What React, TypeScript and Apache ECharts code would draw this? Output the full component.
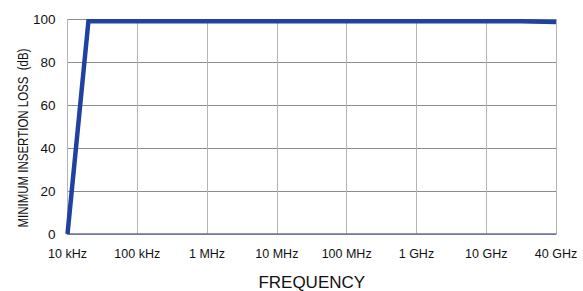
import React, { useEffect, useRef } from "react";
import * as echarts from "echarts";

const xTickLabels = ["10 kHz", "100 kHz", "1 MHz", "10 MHz", "100 MHz", "1 GHz", "10 GHz", "40 GHz"];
// x positions in tick steps from 10 kHz (one step per labelled tick)
const lossX = [0, 0.3, 6.5, 7];
const lossDb = [0, 99, 99, 98.6];
const yTicks = [0, 20, 40, 60, 80, 100];
const yTitle = "MINIMUM INSERTION LOSS  (dB)";

export default function App() {
  const ref = useRef<HTMLDivElement>(null);
  useEffect(() => {
    document.body.style.margin = "0";
    const chart = echarts.init(ref.current!, null, { renderer: "svg" });
    chart.setOption({
      animation: false,
      backgroundColor: "#ffffff",
      grid: { left: 67.5, right: 27, top: 19, bottom: 57, outerBoundsMode: "none", containLabel: false },
      xAxis: {
        type: "value",
        min: 0,
        max: xTickLabels.length - 1,
        interval: 1,
        name: "FREQUENCY",
        nameLocation: "middle",
        nameGap: 40,
        nameTextStyle: { fontFamily: "Liberation Sans, Arial, sans-serif", fontSize: 17, color: "#111" },
        axisLine: { show: true, lineStyle: { color: "#6a739c", width: 1.5 } },
        axisTick: { show: false },
        axisLabel: {
          margin: 13,
          fontFamily: "Liberation Sans, Arial, sans-serif",
          fontSize: 12.5,
          color: "#111",
          formatter: (v: number) => xTickLabels[Math.round(v)] ?? "",
        },
        splitLine: { show: true, lineStyle: { color: "#b4b4b4", width: 1 } },
      },
      yAxis: {
        type: "value",
        min: 0,
        max: yTicks[yTicks.length - 1],
        interval: 20,
        axisLine: { show: false },
        axisTick: { show: false },
        axisLabel: {
          margin: 12,
          fontFamily: "Liberation Sans, Arial, sans-serif",
          fontSize: 13.5,
          color: "#111",
        },
        splitLine: { show: true, lineStyle: { color: "#8c8c8c", width: 1 } },
      },
      graphic: [
        {
          type: "text",
          x: 23,
          y: 138,
          rotation: Math.PI / 2,
          scaleX: 0.82,
          style: {
            text: yTitle,
            fontFamily: "Liberation Sans, Arial, sans-serif",
            fontSize: 14,
            fill: "#111",
            align: "center",
            verticalAlign: "middle",
          },
        },
      ],
      series: [
        {
          type: "line",
          data: lossX.map((x, i) => [x, lossDb[i]]),
          symbol: "none",
          lineStyle: { color: "#2141a0", width: 4.5, join: "miter" },
        },
      ],
    });
    return () => chart.dispose();
  }, []);
  return <div ref={ref} style={{ width: 583, height: 291 }} />;
}
